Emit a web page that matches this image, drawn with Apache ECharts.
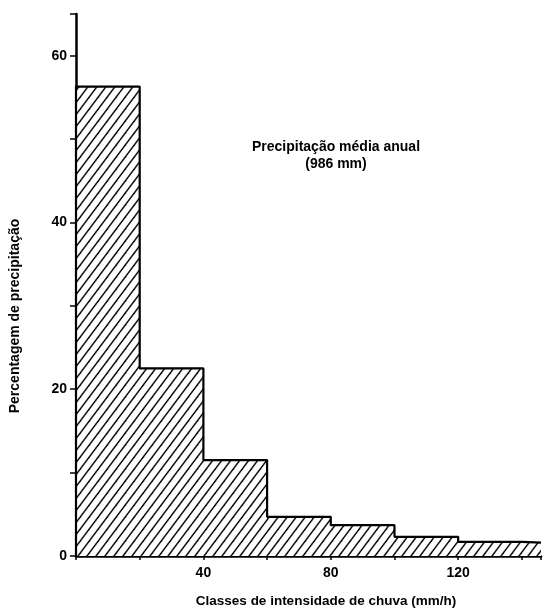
<!DOCTYPE html>
<html>
<head>
<meta charset="utf-8">
<script src="https://cdn.jsdelivr.net/npm/echarts@6/dist/echarts.min.js"></script>
<style>
html,body{margin:0;padding:0;background:#fff;}
#chart{width:544px;height:610px;}
</style>
</head>
<body>
<div id="chart"></div>
<script>
// Class edges (mm/h) and percentage of precipitation per class
const binEdges = [0, 20, 40, 60, 80, 100, 120, 140, 146];
const percentages = [56.3, 22.5, 11.5, 4.7, 3.7, 2.3, 1.7, 1.6];
const xTickLabels = [40, 80, 120];
const yTickLabels = [0, 20, 40, 60];
const annotation = ['Precipitação média anual', '(986 mm)'];
const xTitle = 'Classes de intensidade de chuva (mm/h)';
const yTitle = 'Percentagem de precipitação';

// Build step data for histogram outline
const stepData = [[binEdges[0], 0]];
for (let i = 0; i < percentages.length; i++) {
  stepData.push([binEdges[i], percentages[i]]);
}
stepData.push([binEdges[binEdges.length - 1], percentages[percentages.length - 1]]);

// Hatch pattern "/"
function makeHatch() {
  const w = 9, h = 12;
  const c = document.createElement('canvas');
  c.width = w; c.height = h;
  const g = c.getContext('2d');
  g.fillStyle = '#fff';
  g.fillRect(0, 0, w, h);
  g.strokeStyle = '#111';
  g.lineWidth = 1.5;
  const lines = [[0, h, w, 0], [-w, h, w, -h], [0, 2 * h, 2 * w, 0]];
  for (const l of lines) {
    g.beginPath(); g.moveTo(l[0], l[1]); g.lineTo(l[2], l[3]); g.stroke();
  }
  return c;
}

const chart = echarts.init(document.getElementById('chart'), null, {renderer: 'canvas'});
const font = 'Liberation Sans, Arial, Helvetica, sans-serif';
chart.setOption({
  animation: false,
  backgroundColor: '#fff',
  grid: {left: 76, right: 0, top: 14, bottom: 54, containLabel: false},
  xAxis: {
    type: 'value', min: 0, max: 146, interval: 20,
    splitLine: {show: false},
    axisLine: {show: true, onZero: false, lineStyle: {color: '#000', width: 2.5}},
    axisTick: {show: true, length: 4, lineStyle: {color: '#000', width: 1.5}},
    axisLabel: {
      color: '#000', fontFamily: font, fontWeight: 'bold', fontSize: 14, margin: 10,
      formatter: v => xTickLabels.indexOf(v) >= 0 ? String(v) : ''
    }
  },
  yAxis: {
    type: 'value', min: 0, max: 65, interval: 10,
    splitLine: {show: false},
    axisLine: {show: true, lineStyle: {color: '#000', width: 2.5}},
    axisTick: {show: true, length: 6, lineStyle: {color: '#000', width: 1.5}},
    axisLabel: {
      color: '#000', fontFamily: font, fontWeight: 'bold', fontSize: 14, margin: 9,
      formatter: v => yTickLabels.indexOf(v) >= 0 ? String(v) : ''
    }
  },
  graphic: [{
    type: 'text', x: 336, y: 139,
    style: {
      text: annotation.join('\n'), fill: '#000', align: 'center', verticalAlign: 'top',
      font: 'bold 14px ' + font, lineHeight: 17
    }
  }, {
    type: 'text', x: 326, y: 601,
    style: {
      text: xTitle, fill: '#000', align: 'center', verticalAlign: 'middle',
      font: 'bold 13.5px ' + font
    }
  }, {
    type: 'text', x: 15, y: 316, rotation: Math.PI / 2,
    style: {
      text: yTitle, fill: '#000', align: 'center', verticalAlign: 'middle',
      font: 'bold 14px ' + font
    }
  }],
  series: [{
    type: 'line',
    step: 'end',
    data: stepData,
    symbol: 'none',
    clip: true,
    lineStyle: {color: '#000', width: 2.2},
    areaStyle: {color: {image: makeHatch(), repeat: 'repeat'}, opacity: 1}
  }]
});
</script>
</body>
</html>
